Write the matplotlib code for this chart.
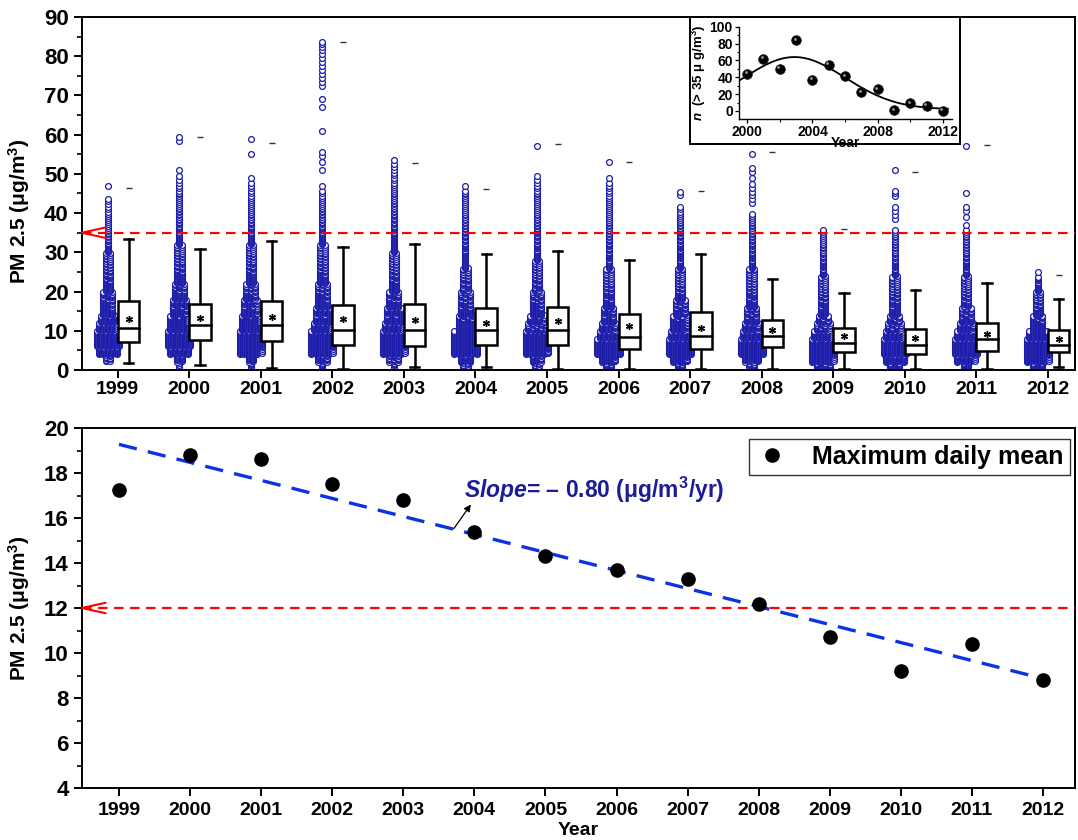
import numpy as np
import matplotlib
matplotlib.use('Agg')
import matplotlib.pyplot as plt
from matplotlib.patches import Rectangle
from matplotlib.ticker import MultipleLocator
import matplotlib.transforms as mtransforms

plt.rcParams['font.family'] = ['Liberation Sans', 'DejaVu Sans']
plt.rcParams['font.weight'] = 'bold'
plt.rcParams['mathtext.fontset'] = 'custom'
plt.rcParams['mathtext.rm'] = 'Liberation Sans:bold'
plt.rcParams['mathtext.it'] = 'Liberation Sans:bold:italic'
plt.rcParams['mathtext.bf'] = 'Liberation Sans:bold'

# ---------------- data ----------------
years = [1999, 2000, 2001, 2002, 2003, 2004, 2005, 2006, 2007, 2008, 2009, 2010, 2011, 2012]

# box statistics of daily PM2.5 (ug/m3)
whisker_low = [1.9, 1.2, 0.4, 0.3, 0.8, 0.8, 0.3, 0.3, 0.3, 0.3, 0.3, 0.3, 0.3, 0.8]
q1 = [7.2, 7.6, 7.4, 6.5, 6.2, 6.3, 6.5, 5.3, 5.3, 5.9, 4.5, 4.0, 4.8, 4.7]
median = [10.8, 11.4, 11.4, 10.3, 10.1, 10.2, 10.2, 8.5, 8.6, 8.6, 7.0, 6.4, 7.9, 6.5]
q3 = [17.7, 16.9, 17.7, 16.5, 16.9, 15.7, 16.1, 14.4, 14.9, 12.8, 10.8, 10.5, 11.9, 10.2]
whisker_high = [33.3, 30.9, 32.9, 31.3, 32.2, 29.6, 30.3, 28.1, 29.6, 23.1, 19.7, 20.4, 22.1, 18.1]
mean_val = [13.1, 13.3, 13.6, 13.0, 12.8, 12.0, 12.5, 11.1, 10.8, 10.3, 8.6, 8.2, 9.2, 7.9]
max_val = [46.5, 59.5, 58.0, 83.5, 52.8, 46.1, 57.5, 53.0, 45.7, 55.6, 36.0, 50.4, 57.4, 24.3]

# number of days per 2-ug/m3 bin (bins start at 0, 2, 4, ...)
bin_width = 2
days_1999 = [0, 10, 40, 48, 48, 36, 32, 24, 22, 20, 16, 14, 12, 10, 9, 8, 6, 5, 4, 4, 3, 3, 0, 1]
days_2000 = [4, 14, 40, 48, 48, 40, 36, 30, 28, 24, 20, 16, 14, 12, 10, 9, 8, 7, 6, 5, 5, 4, 4, 3,
             2, 1, 0, 0, 0, 2]
days_2001 = [6, 14, 44, 48, 48, 40, 36, 30, 26, 22, 18, 16, 14, 12, 10, 9, 8, 7, 6, 5, 4, 4, 3, 3,
             1, 0, 0, 1, 0, 1]
days_2002 = [8, 20, 44, 48, 44, 36, 32, 28, 24, 22, 18, 16, 13, 11, 10, 9, 8, 7, 6, 5, 5, 4, 3, 1,
             0, 1, 1, 2, 0, 0, 1, 0, 0, 1, 1, 0, 2, 2, 2, 2, 2, 3]
days_2003 = [6, 18, 44, 48, 44, 36, 32, 28, 24, 20, 16, 14, 12, 10, 9, 8, 8, 7, 6, 6, 5, 5, 4, 4,
             3, 3, 2]
days_2004 = [10, 24, 48, 48, 44, 32, 28, 24, 20, 18, 14, 12, 10, 8, 8, 7, 6, 6, 5, 5, 4, 4, 4, 1]
days_2005 = [10, 22, 46, 48, 44, 34, 30, 24, 22, 18, 14, 12, 10, 9, 8, 7, 6, 6, 5, 5, 4, 4, 4, 3,
             2, 0, 0, 0, 1]
days_2006 = [14, 30, 48, 48, 40, 30, 24, 20, 16, 14, 12, 10, 9, 8, 7, 6, 6, 5, 5, 4, 4, 4, 3, 3,
             1, 0, 1]
days_2007 = [14, 30, 48, 48, 40, 30, 26, 22, 18, 16, 12, 10, 9, 8, 7, 7, 6, 6, 5, 4, 3, 0, 2]
days_2008 = [12, 28, 48, 48, 40, 30, 24, 18, 16, 14, 11, 10, 9, 8, 7, 6, 6, 5, 5, 4, 0, 2, 2, 2,
             1, 2, 0, 1]
days_2009 = [30, 44, 48, 48, 36, 26, 20, 16, 14, 12, 10, 9, 8, 7, 6, 5, 4, 4]
days_2010 = [24, 40, 48, 48, 36, 26, 20, 16, 14, 12, 10, 9, 8, 7, 6, 5, 5, 4, 0, 2, 2, 0, 3, 0,
             0, 1]
days_2011 = [16, 36, 48, 48, 40, 30, 24, 18, 14, 12, 10, 9, 8, 7, 6, 5, 5, 4, 1, 1, 2, 0, 1, 0,
             0, 0, 0, 0, 1]
days_2012 = [24, 44, 48, 48, 40, 24, 20, 16, 12, 10, 8, 6, 1]

daily_days = [days_1999, days_2000, days_2001, days_2002, days_2003, days_2004, days_2005,
              days_2006, days_2007, days_2008, days_2009, days_2010, days_2011, days_2012]

# maximum daily mean (bottom panel)
max_daily_mean = [17.25, 18.8, 18.6, 17.5, 16.8, 15.4, 14.3, 13.7, 13.3, 12.2, 10.7, 9.2, 10.4, 8.8]

# inset: number of days above 35 ug/m3
inset_years = [2000, 2001, 2002, 2003, 2004, 2005, 2006, 2007, 2008, 2009, 2010, 2011, 2012]
exceed_days = [44, 62, 50, 84, 37, 55, 41, 22, 26, 1, 9, 6, 0]
# gaussian fit parameters (y0, A, xc, w)
fit_y0, fit_A, fit_xc, fit_w = 2.0, 62.0, 2002.9, 3.1

daily_standard = 35
annual_standard = 12

# ---------------- figure ----------------
fig = plt.figure(figsize=(10.78, 8.4), dpi=100)
W, H = 1078, 840

def fr(x0, y0, x1, y1):
    return [x0 / W, 1 - y1 / H, (x1 - x0) / W, (y1 - y0) / H]

ax1 = fig.add_axes(fr(82, 17, 1075, 370))
ax2 = fig.add_axes(fr(82, 428, 1075, 788))

swarm_color = '#1c1caa'
col_step = 0.062
swarm_shift = -0.14
box_left = 0.0
box_w = 0.30
cap_w = 0.13

for i, yr in enumerate(years):
    counts = daily_days[i]
    xs, ys = [], []
    cx = yr + swarm_shift
    for b, c in enumerate(counts):
        if c == 0:
            continue
        ncol = int(np.ceil(c / 8))
        per = int(np.ceil(c / ncol))
        k = 0
        for col in range(ncol):
            n_here = min(per, c - k)
            if n_here <= 0:
                break
            off = (col - (ncol - 1) / 2) * col_step
            for r in range(n_here):
                frac = (r + 0.5 + 0.25 * (col % 2)) / n_here
                frac = min(frac, 0.98)
                xs.append(cx + off)
                ys.append(b * bin_width + frac * bin_width)
            k += n_here
    ax1.plot(xs, ys, linestyle='none', marker='o', ms=4.2, mfc='white', mec=swarm_color,
             mew=0.9, zorder=2)

    bx = yr + box_left
    xc = bx + box_w / 2
    ax1.add_patch(Rectangle((bx, q1[i]), box_w, q3[i] - q1[i], facecolor='white',
                            edgecolor='black', lw=1.8, zorder=4))
    ax1.plot([bx, bx + box_w], [median[i], median[i]], color='black', lw=1.8, zorder=5)
    ax1.plot([xc, xc], [q3[i], whisker_high[i]], color='black', lw=1.8, zorder=3)
    ax1.plot([xc, xc], [q1[i], whisker_low[i]], color='black', lw=1.8, zorder=3)
    ax1.plot([xc - cap_w / 2, xc + cap_w / 2], [whisker_high[i]] * 2, color='black', lw=1.8, zorder=3)
    ax1.plot([xc - cap_w / 2, xc + cap_w / 2], [whisker_low[i]] * 2, color='black', lw=1.8, zorder=3)
    ax1.plot([xc], [mean_val[i]], marker=(6, 2, 0), ms=5.0, color='black', mew=1.0, zorder=6)
    ax1.plot([xc], [max_val[i]], marker='_', ms=5, color='#333333', mew=1.0, zorder=6)

ax1.axhline(daily_standard, color='red', lw=1.6, dashes=(4.3, 2.9), zorder=7)
ax1.set_xlim(1998.50, 2012.38)
ax1.set_ylim(0, 90)
ax1.set_xticks(years)
ax1.set_xticklabels([str(y) for y in years])
ax1.yaxis.set_major_locator(MultipleLocator(10))
ax1.yaxis.set_minor_locator(MultipleLocator(5))
ax1.set_ylabel('PM 2.5 (μg/m$^{3}$)', fontsize=15, fontweight='bold')
ax1.yaxis.set_label_coords(-0.05, 0.45)

for ax, ystd in ((ax1, daily_standard), (ax2, annual_standard)):
    for dy in (3.8, -3.8):
        ax.annotate('', xy=(0, ystd), xycoords=('axes fraction', 'data'),
                    xytext=(17, dy), textcoords='offset points',
                    arrowprops=dict(arrowstyle='-', color='red', lw=1.5,
                                    shrinkA=0, shrinkB=0), zorder=8)

# bottom panel
ax2.plot(years, max_daily_mean, linestyle='none', marker='o', ms=9.5, color='black',
         label='Maximum daily mean', zorder=5)
coef = np.polyfit(years, max_daily_mean, 1)
fit_x = np.array([years[0], years[-1]])
ax2.plot(fit_x, np.polyval(coef, fit_x), color='#0a32e6', lw=2.4, dashes=(5.5, 3.4), zorder=4)
ax2.axhline(annual_standard, color='red', lw=1.6, dashes=(4.3, 2.9), zorder=3)
ax2.set_xlim(1998.48, 2012.45)
ax2.set_ylim(4, 20)
ax2.set_xticks(years)
ax2.set_xticklabels([str(y) for y in years])
ax2.yaxis.set_major_locator(MultipleLocator(2))
ax2.yaxis.set_minor_locator(MultipleLocator(1))
ax2.set_ylabel('PM 2.5 (μg/m$^{3}$)', fontsize=15, fontweight='bold')
ax2.yaxis.set_label_coords(-0.05, 0.5)
ax2.set_xlabel('Year', fontsize=14, fontweight='bold', labelpad=2)
ax2.text(2003.86, 16.9, '$\\mathit{Slope}$= – 0.80 (μg/m$^{3}$/yr)', color='#1c1c96',
         fontsize=16.5, fontweight='bold', ha='left', va='baseline')
ax2.annotate('', xy=(2003.95, 16.6), xytext=(2003.71, 15.52),
             arrowprops=dict(arrowstyle='-|>', color='black', lw=0.9,
                             mutation_scale=10, shrinkA=0, shrinkB=0))
leg = ax2.legend(loc='upper right', bbox_to_anchor=(0.995, 0.97), fontsize=18,
                 frameon=True, fancybox=False, edgecolor='black', handletextpad=0.9,
                 borderpad=0.25, handlelength=1.4, markerscale=1.0, borderaxespad=0)
leg.get_frame().set_linewidth(1.0)

for ax in (ax1, ax2):
    for s in ax.spines.values():
        s.set_linewidth(1.4)
    ax.tick_params(axis='both', which='major', direction='out', length=6, width=1.4,
                   labelsize=16)
    ax.tick_params(axis='both', which='minor', direction='out', length=3.5, width=1.2)
    for lab in ax.get_xticklabels() + ax.get_yticklabels():
        lab.set_fontweight('bold')
ax1.tick_params(axis='x', which='major', labelsize=14, pad=2)
ax2.tick_params(axis='x', which='major', labelsize=14, pad=4)

# ---------------- inset ----------------
fig.patches.append(Rectangle((690 / W, 1 - 144 / H), 270 / W, 127 / H, transform=fig.transFigure,
                             facecolor='white', edgecolor='black', lw=1.4, zorder=10))
axi = fig.add_axes(fr(739, 26.7, 952, 119))
axi.set_zorder(11)
axi.patch.set_alpha(0)
fx = np.linspace(1999.5, 2012.3, 200)
fy = fit_y0 + fit_A * np.exp(-(fx - fit_xc) ** 2 / (2 * fit_w ** 2))
axi.plot(fx, fy, color='black', lw=1.3)
axi.plot(inset_years, exceed_days, linestyle='none', marker='o', ms=7, mfc='black',
         mec='#222222', mew=0.5)
hl = mtransforms.offset_copy(axi.transData, fig=fig, x=-1.1, y=1.1, units='points')
axi.plot(inset_years, exceed_days, linestyle='none', marker='o', ms=2.0, mfc='#9a9a9a',
         mec='none', transform=hl)
axi.set_xlim(1999.5, 2012.55)
axi.set_ylim(-9.5, 100)
axi.set_xticks([2000, 2004, 2008, 2012])
axi.xaxis.set_minor_locator(MultipleLocator(2))
axi.set_yticks([0, 20, 40, 60, 80, 100])
axi.yaxis.set_minor_locator(MultipleLocator(10))
axi.spines['top'].set_visible(False)
axi.spines['right'].set_visible(False)
for s in ('left', 'bottom'):
    axi.spines[s].set_linewidth(1.0)
axi.tick_params(which='major', direction='out', length=3, width=0.9, labelsize=10, pad=1.5)
axi.tick_params(which='minor', direction='out', length=1.8, width=0.8)
for lab in axi.get_xticklabels() + axi.get_yticklabels():
    lab.set_fontweight('bold')
axi.set_xlabel('Year', fontsize=10, fontweight='bold', labelpad=-2)
axi.set_ylabel('$\\mathit{n}$  (> 35 μ g/m$^{3}$)', fontsize=9.5, fontweight='bold', labelpad=1)

fig.savefig('out.png', dpi=100)
